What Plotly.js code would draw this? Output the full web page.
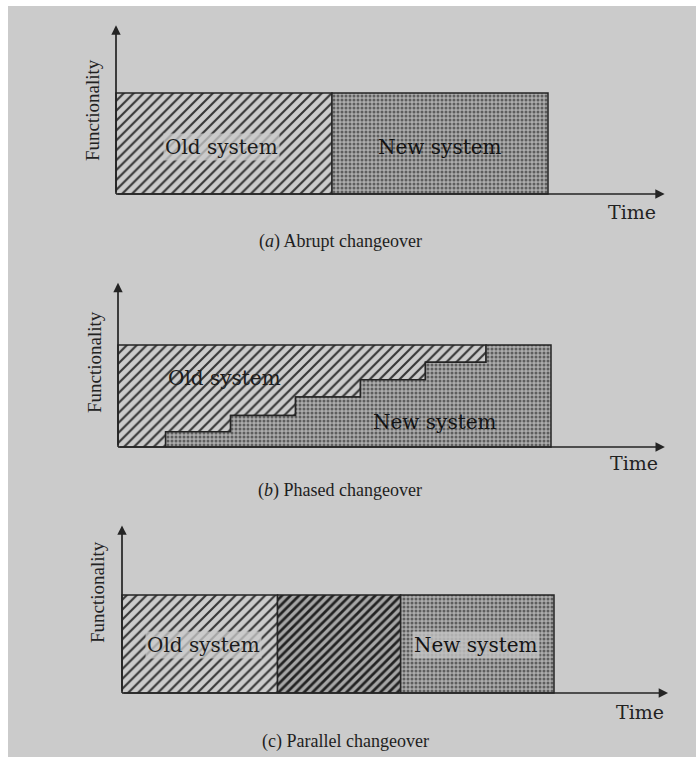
<!DOCTYPE html>
<html>
<head>
<meta charset="utf-8">
<script src="https://cdn.plot.ly/plotly-3.0.1.min.js"></script>
<style>html,body{margin:0;padding:0;background:#fff;}#chart{width:696px;height:758px;}</style>
</head>
<body>
<div id="chart"></div>
<script>
// ---------- data ----------
const panelLetters = ['a', 'b', 'c'];
const panelTitles = ['Abrupt changeover', 'Phased changeover', 'Parallel changeover'];
const yLabel = 'Functionality';
const xLabel = 'Time';
const oldLabel = 'Old system';
const newLabel = 'New system';

const fullFunctionality = 1;      // height of the system box
const endTime = 10;               // end of the shown period

// (a) abrupt: old system until the changeover, new system after it
const abruptChangeTime = 5;

// (b) phased: new system takes over in steps
const phasedStepTimes  = [1.1, 2.6, 4.1, 5.6, 7.1, 8.5];
const phasedStepLevels = [0.15, 0.31, 0.49, 0.66, 0.83, 1.0];

// (c) parallel: both systems run between these times
const parallelStart = 3.6;
const parallelEnd   = 6.45;

// ---------- layout geometry (pixels in the 696x758 page) ----------
const W = 696, H = 758;
const geo = [
  {x0: 116, xs: 43.2, y0: 194, ys: 101, tipX: 12.7,  tipY: 1.67, fx: 93, fy: 110, tx: 632, ty: 212, cx: 340, cy: 241,
   oldPos: [2.45, 0.47], newPos: [7.5, 0.47]},
  {x0: 118, xs: 43.3, y0: 447, ys: 102, tipX: 12.63, tipY: 1.61, fx: 95, fy: 362, tx: 634, ty: 463, cx: 340, cy: 490,
   oldPos: [2.47, 0.68], newPos: [7.32, 0.25]},
  {x0: 122, xs: 43.2, y0: 693, ys: 98, tipX: 12.64, tipY: 1.71, fx: 97, fy: 592, tx: 640, ty: 712, cx: 345, cy: 741,
   oldPos: [1.88, 0.49], newPos: [8.2, 0.49]}
];

const PAPER = '#cbcbcb';
const INK = '#242424';
const hatch = {shape: '/', fgcolor: '#353535', bgcolor: PAPER, size: 7, solidity: 0.3};
const denseHatch = {shape: '/', fgcolor: '#222222', bgcolor: '#a6a6a6', size: 6, solidity: 0.45};
const stipple = {shape: '.', fgcolor: '#5e5e5e', bgcolor: '#acacac', size: 4, solidity: 0.45};

function poly(xs, ys, pattern, k, name) {
  return {
    type: 'scatter', mode: 'lines', name: name,
    x: xs.concat([xs[0]]), y: ys.concat([ys[0]]),
    xaxis: 'x' + (k === 0 ? '' : k + 1), yaxis: 'y' + (k === 0 ? '' : k + 1),
    fill: 'toself', fillcolor: pattern.bgcolor, fillpattern: pattern,
    line: {color: INK, width: 1.5}, hoverinfo: 'skip', showlegend: false
  };
}

const F = fullFunctionality, T = endTime;
const traces = [];

// (a)
traces.push(poly([0, abruptChangeTime, abruptChangeTime, 0], [0, 0, F, F], hatch, 0, 'old'));
traces.push(poly([abruptChangeTime, T, T, abruptChangeTime], [0, 0, F, F], stipple, 0, 'new'));

// (b) build staircase from the step arrays
const stairX = [], stairY = [];
let prev = 0;
phasedStepTimes.forEach((t, i) => {
  stairX.push(t, t); stairY.push(prev, phasedStepLevels[i]);
  prev = phasedStepLevels[i];
});
traces.push(poly([0].concat(stairX).concat([0]), [0].concat(stairY).concat([F]), hatch, 1, 'old'));
traces.push(poly(stairX.concat([T, T]), stairY.concat([F, 0]), stipple, 1, 'new'));

// (c)
traces.push(poly([0, parallelStart, parallelStart, 0], [0, 0, F, F], hatch, 2, 'old'));
traces.push(poly([parallelStart, parallelEnd, parallelEnd, parallelStart], [0, 0, F, F], denseHatch, 2, 'both'));
traces.push(poly([parallelEnd, T, T, parallelEnd], [0, 0, F, F], stipple, 2, 'new'));

const layout = {
  width: W, height: H, margin: {l: 0, r: 0, t: 0, b: 0},
  paper_bgcolor: '#ffffff', plot_bgcolor: 'rgba(0,0,0,0)',
  showlegend: false,
  shapes: [{type: 'rect', xref: 'paper', yref: 'paper', x0: 8 / W, x1: 1, y0: 1 / H, y1: 1 - 6 / H,
            fillcolor: PAPER, line: {width: 0}, layer: 'below'}],
  annotations: []
};

const serif = 'Liberation Serif, Times New Roman, serif';
const wideSerif = 'DejaVu Serif, serif';

geo.forEach((p, k) => {
  const sfx = k === 0 ? '' : String(k + 1);
  const xa = {
    domain: [(p.x0 - 12) / W, 690 / W], range: [-12 / p.xs, (690 - p.x0) / p.xs],
    visible: false, fixedrange: true
  };
  const ya = {
    domain: [1 - (p.y0 + 10) / H, 1 - (p.y0 - 180) / H], range: [-10 / p.ys, 180 / p.ys],
    visible: false, fixedrange: true
  };
  if (k > 0) { xa.anchor = 'y' + sfx; ya.anchor = 'x' + sfx; }
  layout['xaxis' + sfx] = xa;
  layout['yaxis' + sfx] = ya;

  const xr = 'x' + sfx, yr = 'y' + sfx;
  // axis arrows
  layout.annotations.push({xref: xr, yref: yr, axref: xr, ayref: yr, x: p.tipX, y: 0, ax: 0, ay: 0,
    text: '', showarrow: true, arrowhead: 2, arrowsize: 1.1, arrowwidth: 1.7, arrowcolor: INK});
  layout.annotations.push({xref: xr, yref: yr, axref: xr, ayref: yr, x: 0, y: p.tipY, ax: 0, ay: 0,
    text: '', showarrow: true, arrowhead: 2, arrowsize: 1.1, arrowwidth: 1.7, arrowcolor: INK});
  // system labels
  layout.annotations.push({xref: xr, yref: yr, x: p.oldPos[0], y: p.oldPos[1], text: oldLabel, showarrow: false,
    font: {family: wideSerif, size: 20, color: '#1c1c1c', weight: 500}, bgcolor: k === 1 ? 'rgba(0,0,0,0)' : 'rgba(203,203,203,0.75)'});
  layout.annotations.push({xref: xr, yref: yr, x: p.newPos[0], y: p.newPos[1], text: newLabel, showarrow: false,
    font: {family: wideSerif, size: 20, color: '#141414', weight: 500}, bgcolor: k === 2 ? 'rgba(195,195,195,0.8)' : 'rgba(0,0,0,0)'});
  // axis labels
  layout.annotations.push({xref: 'paper', yref: 'paper', x: p.fx / W, y: 1 - p.fy / H, text: yLabel, textangle: -90,
    showarrow: false, xanchor: 'center', yanchor: 'middle', font: {family: serif, size: 19, color: '#222222'}});
  layout.annotations.push({xref: 'paper', yref: 'paper', x: p.tx / W, y: 1 - p.ty / H, text: xLabel,
    showarrow: false, xanchor: 'center', yanchor: 'middle', font: {family: wideSerif, size: 19, color: '#222222'}});
  // caption
  const letter = k === 2 ? '(' + panelLetters[k] + ')' : '(<i>' + panelLetters[k] + '</i>)';
  layout.annotations.push({xref: 'paper', yref: 'paper', x: p.cx / W, y: 1 - p.cy / H,
    text: letter + ' ' + panelTitles[k], showarrow: false, xanchor: 'center', yanchor: 'middle',
    font: {family: serif, size: 18, color: '#1e1e1e'}});
});

Plotly.newPlot('chart', traces, layout, {staticPlot: true, displayModeBar: false});
</script>
</body>
</html>
